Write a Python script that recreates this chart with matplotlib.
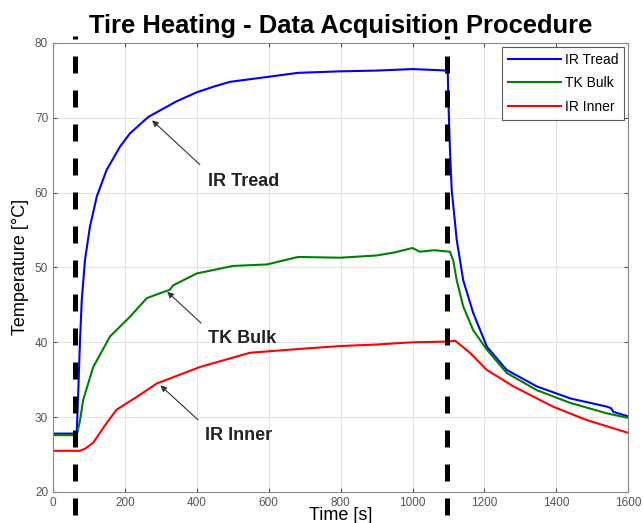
import matplotlib
matplotlib.use("Agg")
import matplotlib.pyplot as plt
import numpy as np

plt.rcParams["font.family"] = ["Liberation Sans", "DejaVu Sans"]

# IR Tread
t_tread = [0, 66, 70, 75, 80, 89, 103, 122, 149, 186, 214, 265, 344, 400, 450, 493, 604, 682, 800, 900, 1000, 1050, 1098,
           1100, 1104, 1109, 1123, 1141, 1169, 1207, 1262, 1346, 1439, 1541, 1552, 1559, 1600]
T_tread = [27.8, 27.8, 33, 40, 45.6, 51.0, 55.5, 59.5, 63.0, 66.1, 67.9, 70.1, 72.2, 73.4, 74.2, 74.8, 75.5, 76.0, 76.2, 76.3, 76.5, 76.4, 76.3,
           72, 66, 60.4, 53.7, 48.3, 43.9, 39.4, 36.3, 34.1, 32.5, 31.4, 31.2, 30.7, 30.1]
# TK Bulk
t_bulk = [0, 66, 75, 84, 112, 159, 214, 261, 312, 325, 334, 400, 501, 595, 682, 800, 900, 950, 1000, 1020, 1060, 1104,
          1113, 1123, 1141, 1169, 1207, 1262, 1346, 1439, 1541, 1600]
T_bulk = [27.6, 27.6, 29.5, 32.3, 36.7, 40.8, 43.4, 45.9, 46.8, 47.0, 47.6, 49.2, 50.2, 50.4, 51.4, 51.3, 51.6, 52.0, 52.6, 52.1, 52.3, 52.1,
          51.0, 48.3, 44.8, 41.6, 39.0, 35.9, 33.6, 31.9, 30.5, 29.9]
# IR Inner
t_inner = [0, 75, 90, 112, 149, 177, 233, 289, 409, 548, 682, 800, 900, 1000, 1100,
           1119, 1160, 1207, 1281, 1391, 1485, 1600]
T_inner = [25.5, 25.5, 25.8, 26.6, 29.2, 31.0, 32.7, 34.5, 36.7, 38.6, 39.1, 39.5, 39.7, 40.0, 40.1,
           40.2, 38.6, 36.3, 34.1, 31.4, 29.6, 27.9]

phase_marks = [61, 1097]

fig = plt.figure(figsize=(6.43, 5.23), dpi=100)
ax = fig.add_axes([0.0824, 0.0593, 0.8946, 0.8587])

ax.plot(t_tread, T_tread, color="#0000ff", lw=1.5, label="IR Tread")
ax.plot(t_bulk, T_bulk, color="#008000", lw=1.5, label="TK Bulk")
ax.plot(t_inner, T_inner, color="#ff0000", lw=1.5, label="IR Inner")

for xm in phase_marks:
    ax.plot([xm, xm], [16.9, 80.9], color="black", lw=3.6, ls=(0, (3.4, 3.4)),
            clip_on=False, zorder=5)

ax.set_xlim(0, 1600)
ax.set_ylim(20, 80)
ax.set_xticks(np.arange(0, 1601, 200))
ax.set_yticks(np.arange(20, 81, 10))
ax.grid(True, color="#e3e3e3", lw=0.8)
ax.tick_params(labelsize=8.5, colors="#555555", length=3, direction="in", top=True, right=True)
for s in ax.spines.values():
    s.set_color("#888888")

arr = dict(arrowstyle="-|>", color="#333333", lw=0.8, mutation_scale=9)
lab = dict(ha="center", va="center", fontsize=13, fontweight="bold", color="#222222")
ax.annotate("", xy=(270, 69.9), xytext=(414, 63.5), arrowprops=arr)
ax.text(529, 61.5, "IR Tread", **lab)
ax.annotate("", xy=(312, 47.0), xytext=(418, 42.3), arrowprops=arr)
ax.text(525, 40.5, "TK Bulk", **lab)
ax.annotate("", xy=(293, 34.5), xytext=(409, 29.4), arrowprops=arr)
ax.text(516, 27.5, "IR Inner", **lab)

ax.set_title("Tire Heating - Data Acquisition Procedure", fontsize=18.4, fontweight="bold", pad=7)
ax.set_xlabel("Time [s]", fontsize=13, labelpad=-1)
ax.set_ylabel("Temperature [°C]", fontsize=13, labelpad=4)

leg = ax.legend(loc="upper right", fontsize=10, fancybox=False, edgecolor="#333333",
                handlelength=3.8, borderaxespad=0.3, labelspacing=0.7, handletextpad=0.3)
leg.get_frame().set_linewidth(0.8)

fig.savefig("out.png", dpi=100)
